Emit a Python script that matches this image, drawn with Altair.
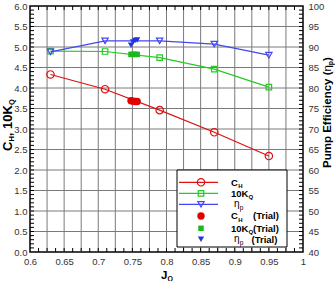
import altair as alt
import pandas as pd

# ---- data ----
J = [0.63, 0.71, 0.79, 0.87, 0.95]
CH = [4.33, 3.97, 3.46, 2.92, 2.34]
KQ10 = [4.90, 4.89, 4.74, 4.46, 4.02]
ETA = [88.8, 91.5, 91.5, 90.7, 88.0]

J_TRIAL = [0.748, 0.751, 0.754, 0.757]
CH_TRIAL = [3.69, 3.68, 3.67, 3.67]
KQ10_TRIAL = [4.82, 4.82, 4.82, 4.82]
ETA_TRIAL = [90.4, 91.2, 91.6, 91.7]

X_LABELS = [0.6, 0.65, 0.7, 0.75, 0.8, 0.85, 0.9, 0.95, 1.0]
YL_LABELS = [0.0, 0.5, 1.0, 1.5, 2.0, 2.5, 3.0, 3.5, 4.0, 4.5, 5.0, 5.5, 6.0]
YR_LABELS = [40, 45, 50, 55, 60, 65, 70, 75, 80, 85, 90, 95, 100]
X_GRID = [0.625, 0.65, 0.675, 0.7, 0.725, 0.75, 0.775, 0.8, 0.825, 0.85,
          0.875, 0.9, 0.925, 0.95, 0.975]
Y_GRID = [0.5, 1.0, 1.5, 2.0, 2.5, 3.0, 3.5, 4.0, 4.5, 5.0, 5.5]
Y_MINOR = [i / 10 for i in range(1, 60)]
X_MINOR = [0.6 + i * 0.0125 for i in range(1, 32)]

# ---- styles ----
F = "Liberation Sans"
RED, GREEN, BLUE = "#e01010", "#22cc22", "#4646f0"
RED_T, GREEN_T, BLUE_T = "#e00000", "#19b919", "#2233e0"
GRID = "#7a7a7a"
W, H = 273, 246

main = pd.DataFrame({"J": J, "CH": CH, "KQ": KQ10, "eta": ETA})
trial = pd.DataFrame({"J": J_TRIAL, "CH": CH_TRIAL, "KQ": KQ10_TRIAL, "eta": ETA_TRIAL})

XS = alt.Scale(domain=[0.6, 1.0], nice=False, zero=False)
YL = alt.Scale(domain=[0, 6], nice=False, zero=False)
YR = alt.Scale(domain=[40, 100], nice=False, zero=False)

lab = dict(labelFont=F, labelFontSize=9.5, labelColor="#333", title=None,
           grid=False, ticks=False, domain=False, labelFlush=False,
           labelOverlap=False, labelBound=False)
x_axis = alt.Axis(values=X_LABELS, format="~g", labelPadding=4, **lab)
yl_axis = alt.Axis(values=YL_LABELS, format=".1f", orient="left", labelPadding=3, **lab)
yr_axis = alt.Axis(values=YR_LABELS, format="d", orient="right", labelPadding=5, **lab)


def X(field, axis=None):
    return alt.X(field, type="quantitative", scale=XS, axis=axis)


layers = []
# grid
layers.append(alt.Chart(pd.DataFrame({"g": X_GRID})).mark_rule(color=GRID, strokeWidth=1)
              .encode(x=X("g")))
layers.append(alt.Chart(pd.DataFrame({"g": Y_GRID})).mark_rule(color=GRID, strokeWidth=1)
              .encode(y=alt.Y("g:Q", scale=YL, axis=None)))
# minor ticks (inside)
ym = pd.DataFrame({"t": Y_MINOR})
xm = pd.DataFrame({"t": X_MINOR})
layers.append(alt.Chart(ym).mark_rule(color="black", strokeWidth=1)
              .encode(y=alt.Y("t:Q", scale=YL, axis=None), x=alt.value(0), x2=alt.value(4)))
layers.append(alt.Chart(ym).mark_rule(color="black", strokeWidth=1)
              .encode(y=alt.Y("t:Q", scale=YL, axis=None), x=alt.value(W - 4), x2=alt.value(W)))
layers.append(alt.Chart(xm).mark_rule(color="black", strokeWidth=1)
              .encode(x=X("t"), y=alt.value(H - 4), y2=alt.value(H)))
layers.append(alt.Chart(xm).mark_rule(color="black", strokeWidth=1)
              .encode(x=X("t"), y=alt.value(0), y2=alt.value(4)))

# series
layers.append(alt.Chart(main).mark_line(color=RED, strokeWidth=1.2)
              .encode(x=X("J", x_axis), y=alt.Y("CH:Q", scale=YL, axis=yl_axis)))
layers.append(alt.Chart(main).mark_point(shape="circle", filled=False, color=RED, size=55, strokeWidth=1.2, opacity=1)
              .encode(x=X("J"), y=alt.Y("CH:Q", scale=YL, axis=None)))
layers.append(alt.Chart(main).mark_line(color=GREEN, strokeWidth=1.2)
              .encode(x=X("J"), y=alt.Y("KQ:Q", scale=YL, axis=None)))
layers.append(alt.Chart(main).mark_point(shape="square", filled=False, color=GREEN, size=30, strokeWidth=1.2, opacity=1)
              .encode(x=X("J"), y=alt.Y("KQ:Q", scale=YL, axis=None)))
layers.append(alt.Chart(main).mark_line(color=BLUE, strokeWidth=1.2)
              .encode(x=X("J"), y=alt.Y("eta:Q", scale=YR, axis=yr_axis)))
layers.append(alt.Chart(main).mark_point(shape="triangle-down", filled=False, color=BLUE, size=40, strokeWidth=1.2, opacity=1)
              .encode(x=X("J"), y=alt.Y("eta:Q", scale=YR, axis=None)))
# trial points
layers.append(alt.Chart(trial).mark_point(shape="circle", filled=True, color=RED_T, size=55, opacity=1)
              .encode(x=X("J"), y=alt.Y("CH:Q", scale=YL, axis=None)))
layers.append(alt.Chart(trial).mark_point(shape="square", filled=True, color=GREEN_T, size=30, opacity=1)
              .encode(x=X("J"), y=alt.Y("KQ:Q", scale=YL, axis=None)))
layers.append(alt.Chart(trial).mark_point(shape="triangle-down", filled=True, color=BLUE_T, size=40, opacity=1)
              .encode(x=X("J"), y=alt.Y("eta:Q", scale=YR, axis=None)))

# ---- legend (layout in pixels) ----
ROWS = [176.3, 187.3, 198.3, 210.0, 222.3, 233.3]
layers.append(alt.Chart(pd.DataFrame({"a": [0]})).mark_rect(fill="white", stroke="black", strokeWidth=1)
              .encode(x=alt.value(147), x2=alt.value(257), y=alt.value(164), y2=alt.value(241)))
leg_lines = pd.DataFrame({"x1": [149] * 3, "x2": [188] * 3, "y": ROWS[:3], "c": [RED, GREEN, BLUE]})
layers.append(alt.Chart(leg_lines).mark_rule(strokeWidth=1.2)
              .encode(x=alt.X("x1:Q", scale=None), x2="x2:Q", y=alt.Y("y:Q", scale=None),
                      color=alt.Color("c:N", scale=None)))
leg_open = pd.DataFrame({"x": [171] * 3, "y": ROWS[:3], "c": [RED, GREEN, BLUE],
                         "s": ["circle", "square", "triangle-down"], "z": [55, 30, 40]})
leg_fill = pd.DataFrame({"x": [171] * 3, "y": ROWS[3:], "c": [RED_T, GREEN_T, BLUE_T],
                         "s": ["circle", "square", "triangle-down"], "z": [55, 30, 40]})
for d, filled in ((leg_open, False), (leg_fill, True)):
    layers.append(alt.Chart(d).mark_point(filled=filled, strokeWidth=1.2, opacity=1)
                  .encode(x=alt.X("x:Q", scale=None), y=alt.Y("y:Q", scale=None),
                          color=alt.Color("c:N", scale=None), shape=alt.Shape("s:N", scale=None),
                          size=alt.Size("z:Q", scale=None)))

r = ROWS
txt_bold = pd.DataFrame({
    "t": ["C", "H", "10K", "Q", "C", "H", "(Trial)", "10K", "Q", "(Trial)", "(Trial)"],
    "x": [201, 208.3, 201, 218.6, 201, 208.3, 223, 201, 218.6, 223, 221.5],
    "y": [r[0] + 3.4, r[0] + 5.6, r[1] + 3.4, r[1] + 5.6, r[3] + 3.4, r[3] + 5.6, r[3] + 3.4,
          r[4] + 3.4, r[4] + 5.6, r[4] + 3.4, r[5] + 3.4],
    "fs": [9.5, 6, 9.5, 6, 9.5, 6, 9.5, 9.5, 6, 9.5, 9.5],
})
txt_reg = pd.DataFrame({
    "t": ["η", "p", "η", "p"],
    "x": [204, 209.8, 204, 209.8],
    "y": [r[2] + 3.0, r[2] + 5.6, r[5] + 3.0, r[5] + 5.6],
    "fs": [10, 6.5, 10, 6.5],
})
for d, wgt in ((txt_bold, "bold"), (txt_reg, "normal")):
    layers.append(alt.Chart(d).mark_text(font=F, fontWeight=wgt, align="left", baseline="alphabetic", color="black")
                  .encode(x=alt.X("x:Q", scale=None), y=alt.Y("y:Q", scale=None), text="t:N",
                          size=alt.Size("fs:Q", scale=None)))

# ---- axis titles with subscripts ----
t_rot_b = pd.DataFrame({
    "t": ["C", "H", ", 10K", "Q", "Pump Efficiency (", "p", ")"],
    "x": [-18.5, -16.3, -18.5, -16.3, 300.5, 303.0, 300.5],
    "y": [145, 135.6, 130.2, 99.1, 162, 59.2, 54.9],
    "fs": [13, 7.5, 13, 7.5, 11.5, 7, 11.5],
})
t_rot_r = pd.DataFrame({"t": ["η"], "x": [300.5], "y": [65.5], "fs": [11.5]})
for d, wgt in ((t_rot_b, "bold"), (t_rot_r, "normal")):
    layers.append(alt.Chart(d).mark_text(font=F, fontWeight=wgt, align="left", baseline="alphabetic",
                                         angle=270, color="black")
                  .encode(x=alt.X("x:Q", scale=None), y=alt.Y("y:Q", scale=None), text="t:N",
                          size=alt.Size("fs:Q", scale=None)))
t_bot = pd.DataFrame({"t": ["J", "Q"], "x": [131, 137.4], "y": [272.5, 274.5], "fs": [11.5, 7]})
layers.append(alt.Chart(t_bot).mark_text(font=F, fontWeight="bold", align="left", baseline="alphabetic",
                                         color="black")
              .encode(x=alt.X("x:Q", scale=None), y=alt.Y("y:Q", scale=None), text="t:N",
                      size=alt.Size("fs:Q", scale=None)))

chart = (alt.layer(*layers)
         .resolve_scale(x="independent", y="independent")
         .properties(width=W, height=H, autosize=alt.AutoSizeParams(type="none"),
                     padding={"left": 30, "top": 6, "right": 32, "bottom": 29},
                     background="white")
         .configure_view(stroke="black", strokeWidth=1.5))

chart.save("out.html", embed_options={"renderer": "svg", "actions": False})
